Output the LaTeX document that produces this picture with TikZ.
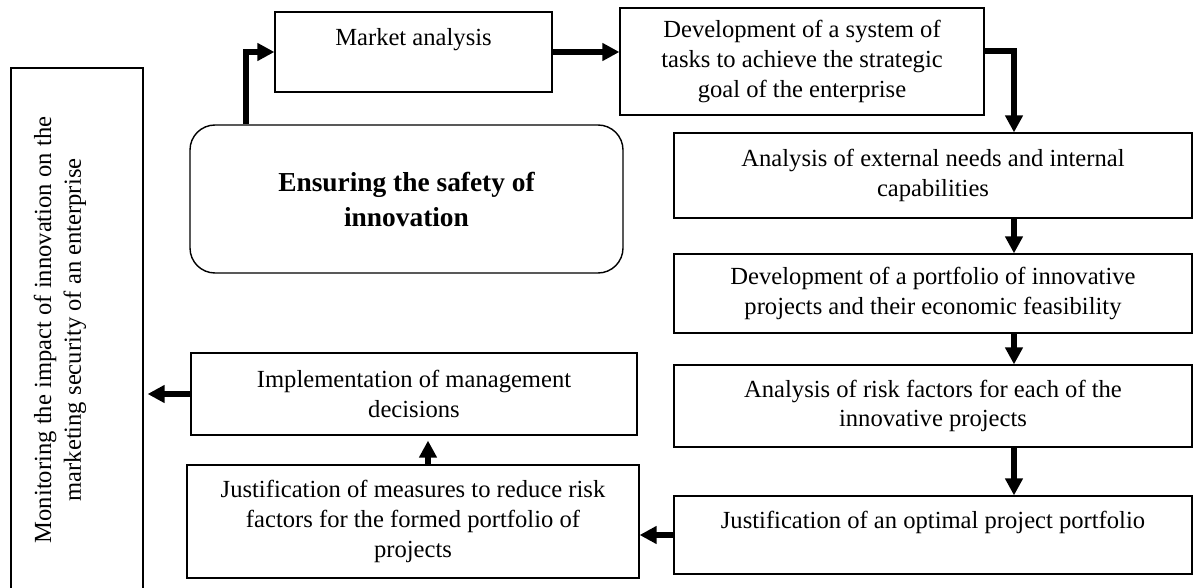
\documentclass[tikz,border=0pt]{standalone}
\usepackage{fontspec}
\setmainfont{Liberation Serif}
\usetikzlibrary{arrows.meta,positioning}

\begin{document}
\begin{tikzpicture}[x=0.5pt,y=-0.5pt,font=\fontsize{12.3}{14.8}\selectfont,
box/.style={draw,line width=0.6pt,align=center,inner sep=0pt},
arr/.style={-{Triangle[length=8.5pt,width=8.5pt]},line width=3pt}]
\useasboundingbox (0,0) rectangle (1193,588);
% left column
\node[box,minimum width=66pt,minimum height=262pt] (monitor) at (77,330) {};
\node[rotate=90,align=center] (monitortext) at (60,330) {Monitoring the impact of innovation on the\\marketing security of an enterprise};
% top row
\node[box,minimum width=138.5pt,minimum height=40pt] (market) at (413.5,52) {Market analysis\\\mbox{}};
\node[box,minimum width=182pt,minimum height=53.5pt] (system) at (802,61.5) {Development of a system of\\tasks to achieve the strategic\\goal of the enterprise};
\node[box,rounded corners=12.5pt,line width=0.7pt,minimum width=216.5pt,minimum height=74pt,font=\fontsize{13.7}{17.5}\selectfont\bfseries] (ensure) at (406.5,199) {Ensuring the safety of\\innovation};
% right column
\node[box,minimum width=259pt,minimum height=42.5pt] (external) at (933,175.5) {Analysis of external needs and internal\\capabilities};
\node[box,minimum width=259pt,minimum height=39.5pt] (portfolio) at (933,293.5) {Development of a portfolio of innovative\\projects and their economic feasibility};
\node[box,minimum width=259pt,minimum height=41pt] (risk) at (933,406) {Analysis of risk factors for each of the\\innovative projects};
\node[box,minimum width=259pt,minimum height=39pt] (optimal) at (933,535) {Justification of an optimal project portfolio\\\mbox{}};
% bottom left
\node[box,minimum width=223pt,minimum height=41pt] (implement) at (414,394) {Implementation of management\\decisions};
\node[box,minimum width=226pt,minimum height=56.5pt] (measures) at (413,521.5) {Justification of measures to reduce risk\\factors for the formed portfolio of\\projects};
\coordinate (bend) at (1014,51);
\draw[arr] ([xshift=28.5pt]ensure.north west) |- (market.west);
\draw[arr] (market.east) -- (market.east -| system.west);
\draw[arr] (system.east |- bend) -- (bend) -- (bend |- external.north);
\draw[arr] (external.south -| bend) -- (portfolio.north -| bend); \draw[arr] (portfolio.south -| bend) -- (risk.north -| bend); \draw[arr] (risk.south -| bend) -- (optimal.north -| bend);
\draw[arr] (optimal.west) -- (optimal.west -| measures.east);
\draw[arr,shorten >=2.5pt] ([xshift=7.5pt]measures.north) -- ([xshift=7.5pt]measures.north |- implement.south);
\draw[arr,shorten >=2pt] (implement.west) -- (implement.west -| monitor.east);
\end{tikzpicture}
\end{document}
